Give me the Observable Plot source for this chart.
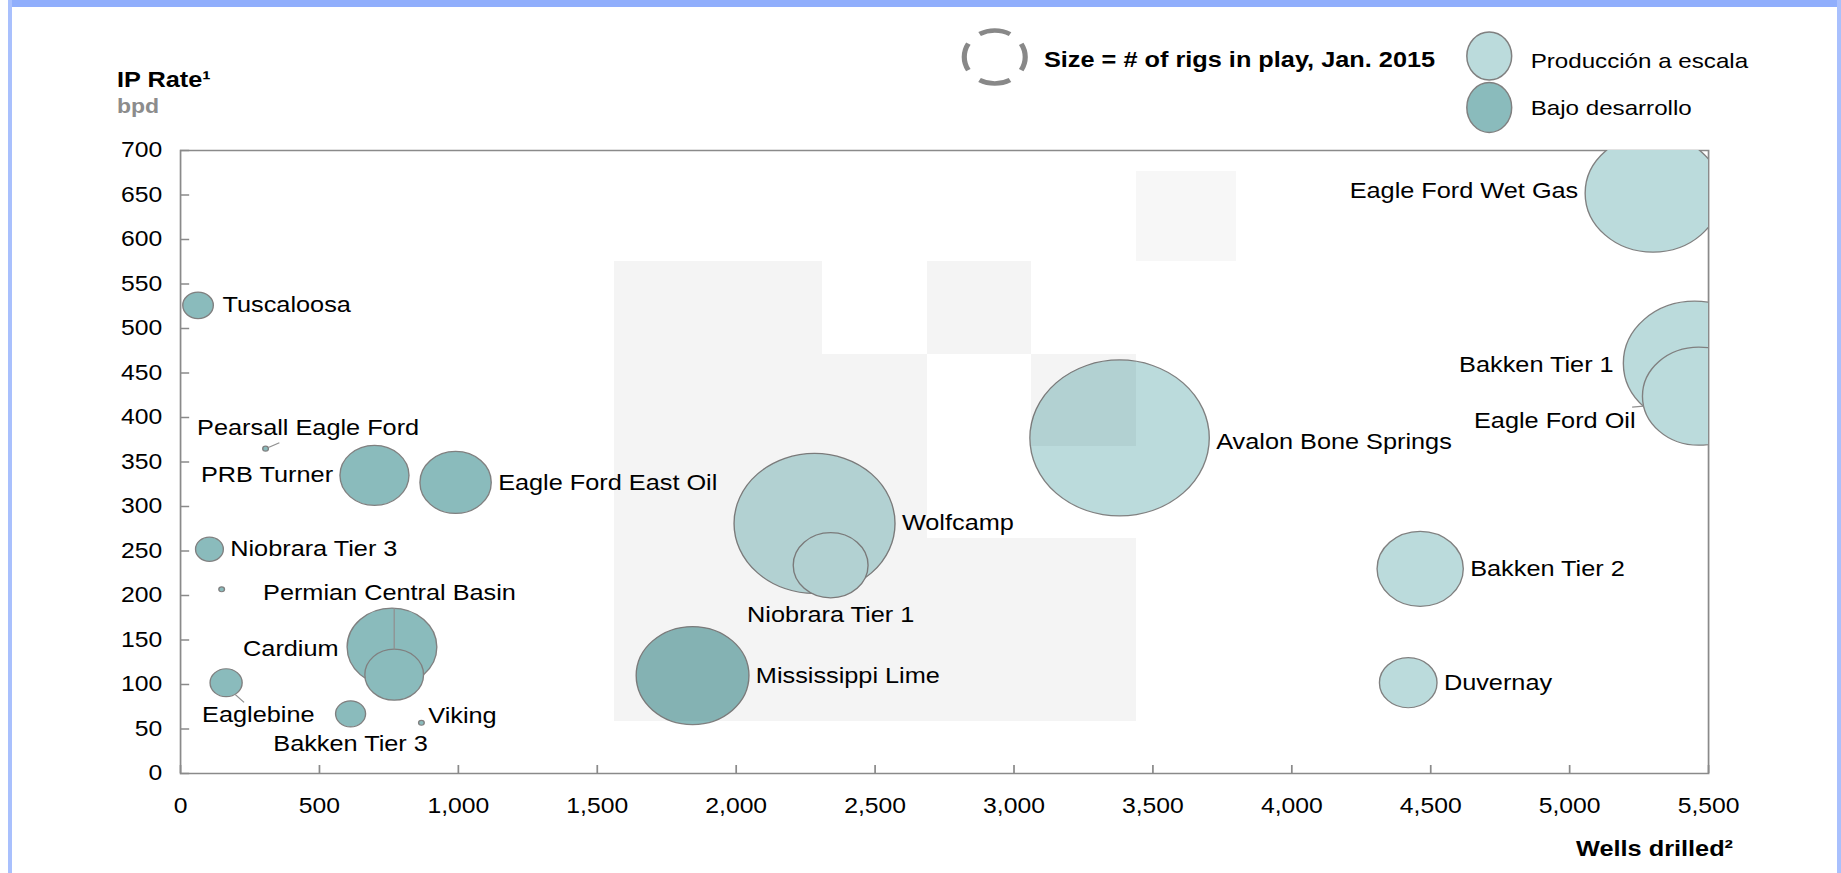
<!DOCTYPE html>
<html>
<head>
<meta charset="utf-8">
<script src="https://cdn.jsdelivr.net/npm/d3@7"></script>
<script src="https://cdn.jsdelivr.net/npm/@observablehq/plot@0.6"></script>
<style>
html, body { margin: 0; padding: 0; background: #fff; width: 1841px; height: 873px; overflow: hidden; font-family: "Liberation Sans", Arial, sans-serif; }
#wrap { position: absolute; left: 0; top: 0; width: 1601px; height: 873px; transform: scaleX(1.15); transform-origin: 0 0; }
#head { position: relative; height: 130px; }
#chart { position: relative; height: 700px; }
#foot { position: relative; height: 43px; }
.t { position: absolute; white-space: nowrap; line-height: 1; color: #000; }
.bTop { position: absolute; left: 8px; top: 0; width: 1833px; height: 7px; background: #90aefc; }
.bL { position: absolute; left: 8px; top: 0; width: 4px; height: 873px; background: #a9c0fd; }
.bR { position: absolute; left: 1837px; top: 0; width: 4px; height: 873px; background: #a9c0fd; }
</style>
</head>
<body>
<div id="wrap"><div id="head"></div><div id="chart"></div><div id="foot"></div></div>
<div class="bTop"></div><div class="bL"></div><div class="bR"></div>
<script>
// ---- data ----
const plays = ["Tuscaloosa", "Pearsall Eagle Ford", "PRB Turner", "Eagle Ford East Oil", "Niobrara Tier 3",
  "Permian Central Basin", "Cardium", "", "Eaglebine", "Bakken Tier 3", "Viking", "Mississippi Lime",
  "Wolfcamp", "Niobrara Tier 1", "Avalon Bone Springs", "Eagle Ford Wet Gas", "Bakken Tier 1",
  "Eagle Ford Oil", "Bakken Tier 2", "Duvernay"];
const wellsDrilled = [63, 306, 698, 990, 104, 148, 761, 769, 164, 612, 867, 1843, 2282, 2340, 3380, 5300, 5450, 5465, 4462, 4419];
const ipRate = [526, 365, 335, 327, 252, 207, 142, 111, 102, 67, 57, 110, 281, 234, 377, 652, 461, 424, 230, 102];
const rigs = [2.9, 0.1, 14.8, 15.8, 2.4, 0.1, 25, 10.7, 3.2, 2.8, 0.1, 39.5, 80.5, 17.4, 100, 57.2, 63.2, 39.5, 23.1, 10.3];
const stageNames = ["Producción a escala", "Bajo desarrollo"];
const stage = ["Bajo desarrollo", "Bajo desarrollo", "Bajo desarrollo", "Bajo desarrollo", "Bajo desarrollo",
  "Bajo desarrollo", "Bajo desarrollo", "Bajo desarrollo", "Bajo desarrollo", "Bajo desarrollo",
  "Bajo desarrollo", "Bajo desarrollo", "Producción a escala", "Producción a escala", "Producción a escala",
  "Producción a escala", "Producción a escala", "Producción a escala", "Producción a escala", "Producción a escala"];
const labelSide = ["right", "above", "left", "right", "right", "right", "left", "none", "below", "below",
  "right", "right", "right", "below", "right", "left", "left", "left", "right", "right"];
// faint grey background cells seen behind the chart (in wells / bpd units)
const shadeX1 = [1562, 1562, 2689, 2689, 3063, 3441];
const shadeX2 = [2689, 2311, 3063, 3441, 3441, 3801];
const shadeY1 = [58, 471, 471, 58, 367, 575];
const shadeY2 = [471, 575, 575, 264, 471, 676];
const xTicks = d3.range(0, 5501, 500);
const yTicks = d3.range(0, 701, 50);
const yTitle = "IP Rate¹";
const yUnit = "bpd";
const xTitle = "Wells drilled²";
const sizeNote = "Size = # of rigs in play, Jan. 2015";

// ---- styling / layout ----
const colors = ["#bbdbdc", "#8abbbc"];
const W = 1601, H = 700, mL = 156.5, mR = 115.8, mT = 20, mB = 57;
const kx = (W - mL - mR) / 5500, ky = (H - mT - mB) / 700;
const rMax = 78, rDomainMax = 100;
const rScale = d3.scaleSqrt().domain([0, rDomainMax]).range([0, rMax]);
const font = '"Liberation Sans", Arial, sans-serif';

const data = plays.map((name, i) => ({name, wells: wellsDrilled[i], ip: ipRate[i], rigs: rigs[i], stage: stage[i], side: labelSide[i]}));
const byName = Object.fromEntries(data.map(d => [d.name, d]));
const shades = shadeX1.map((x1, i) => ({x1, x2: shadeX2[i], y1: shadeY1[i], y2: shadeY2[i]}));

// label nudges in px
const nudge = {
  "Tuscaloosa": [2, 0], "Pearsall Eagle Ford": [37, -0.5], "Permian Central Basin": [27.5, 4],
  "Cardium": [-1.4, 2], "Eaglebine": [28, 1], "Viking": [-2.5, -6.5], "Avalon Bone Springs": [0, 4],
  "Bakken Tier 1": [-2.4, 1.5], "Eagle Ford Oil": [0, 25], "Eagle Ford Wet Gas": [0, -2.5]
};
const atX = (w, px) => w + px / kx;
const atY = (v, py) => v - py / ky;
const labels = data.filter(d => d.side !== "none").map(d => {
  const r = rScale(d.rigs);
  const [nx, ny] = nudge[d.name] || [0, 0];
  let px = nx, py = ny, anchor = "middle";
  if (d.side === "right") { px += r + 6; anchor = "start"; }
  else if (d.side === "left") { px += -(r + 6); anchor = "end"; }
  else if (d.side === "below") { py += r + 17.5; }
  else if (d.side === "above") { py += -(r + 17.5); }
  return {name: d.name, x: atX(d.wells, px), y: atY(d.ip, py), anchor};
});

// leader lines
const lead = (d, a, b) => ({x1: atX(d.wells, a[0]), y1: atY(d.ip, a[1]), x2: atX(d.wells, b[0]), y2: atY(d.ip, b[1])});
const outerC = byName["Cardium"], innerC = byName[""];
const leaders = [
  lead(byName["Pearsall Eagle Ford"], [3, -1.5], [12, -6]),
  lead(byName["Eaglebine"], [7.8, 11.6], [15.6, 19.7]),
  lead(byName["Eagle Ford Oil"], [-48, 10], [-58, 11]),
  {x1: innerC.wells, y1: outerC.ip + rScale(outerC.rigs) / ky, x2: innerC.wells, y2: innerC.ip + rScale(innerC.rigs) / ky}
];

const textMark = (anchor) => Plot.text(labels.filter(l => l.anchor === anchor), {
  x: "x", y: "y", text: "name", textAnchor: anchor, fill: "#000", fontSize: 22
});

const chart = Plot.plot({
  width: W, height: H, marginLeft: mL, marginRight: mR, marginTop: mT, marginBottom: mB,
  style: {fontFamily: font, fontSize: "22px", background: "transparent", color: "#000", overflow: "visible"},
  x: {domain: [0, 5500], label: null},
  y: {domain: [0, 700], label: null},
  r: {type: "sqrt", domain: [0, rDomainMax], range: [0, rMax]},
  color: {domain: stageNames, range: colors},
  marks: [
    Plot.frame({stroke: "#8a8a8a", strokeWidth: 1.5}),
    Plot.axisX({ticks: xTicks, tickFormat: d3.format(","), tickSize: -8, tickPadding: 32, stroke: "#8a8a8a", strokeWidth: 1.5, fill: "#000", fontSize: 21.5, label: null}),
    Plot.axisY({ticks: yTicks, tickFormat: d3.format(","), tickSize: -8, tickPadding: 24, stroke: "#8a8a8a", strokeWidth: 1.5, fill: "#000", fontSize: 21.5, label: null}),
    Plot.dot(data, {x: "wells", y: "ip", r: "rigs", fill: "stage", fillOpacity: 1, stroke: "#808080", strokeWidth: 1.2, clip: true, sort: {channel: "r", order: "descending"}}),
    Plot.rect(shades.slice(0, 5), {x1: "x1", x2: "x2", y1: "y1", y2: "y2", fill: "#000", fillOpacity: 0.045, shapeRendering: "crispEdges"}),
    Plot.rect(shades.slice(5), {x1: "x1", x2: "x2", y1: "y1", y2: "y2", fill: "#000", fillOpacity: 0.03, shapeRendering: "crispEdges"}),
    Plot.link(leaders, {x1: "x1", y1: "y1", x2: "x2", y2: "y2", stroke: "#909090", strokeWidth: 1.1}),
    textMark("start"), textMark("end"), textMark("middle")
  ]
});
document.getElementById("chart").appendChild(chart);

// ---- header: axis title and legend ----
function place(parent, text, x, baseline, size, weight, color, align) {
  const s = document.createElement("div");
  s.className = "t";
  s.textContent = text;
  s.style.fontSize = size + "px";
  s.style.fontWeight = weight;
  s.style.color = color;
  s.style.top = (baseline - 0.8465 * size) + "px";
  if (align === "right") s.style.right = x + "px"; else s.style.left = x + "px";
  parent.appendChild(s);
  return s;
}
const head = document.getElementById("head");
place(head, yTitle, 101.7, 88, 22, "bold", "#000");
place(head, yUnit, 101.7, 113, 20, "bold", "#8c8c8c");
place(head, sizeNote, 907.8, 67.5, 22, "bold", "#000");
place(head, stageNames[0], 1331, 68, 21, "normal", "#000");
place(head, stageNames[1], 1331, 115, 21, "normal", "#000");

const lg = d3.create("svg").attr("width", 1601).attr("height", 130)
  .style("position", "absolute").style("left", "0px").style("top", "0px").style("overflow", "visible");
lg.append("circle").attr("cx", 865).attr("cy", 57).attr("r", 26.5)
  .attr("fill", "none").attr("stroke", "#888").attr("stroke-width", 4.5)
  .attr("stroke-dasharray", "27.7 13.9").attr("stroke-dashoffset", 13.9);
lg.selectAll("ellipse").data(stageNames).join("ellipse")
  .attr("cx", 1295).attr("cy", (d, i) => i === 0 ? 56 : 107.5).attr("rx", 19.5).attr("ry", (d, i) => i === 0 ? 24 : 25)
  .attr("fill", (d, i) => colors[i]).attr("stroke", "#808080").attr("stroke-width", 1.3);
head.appendChild(lg.node());

const foot = document.getElementById("foot");
place(foot, xTitle, 1601 - 1507, 857 - 830, 22, "bold", "#000", "right");
</script>
</body>
</html>
